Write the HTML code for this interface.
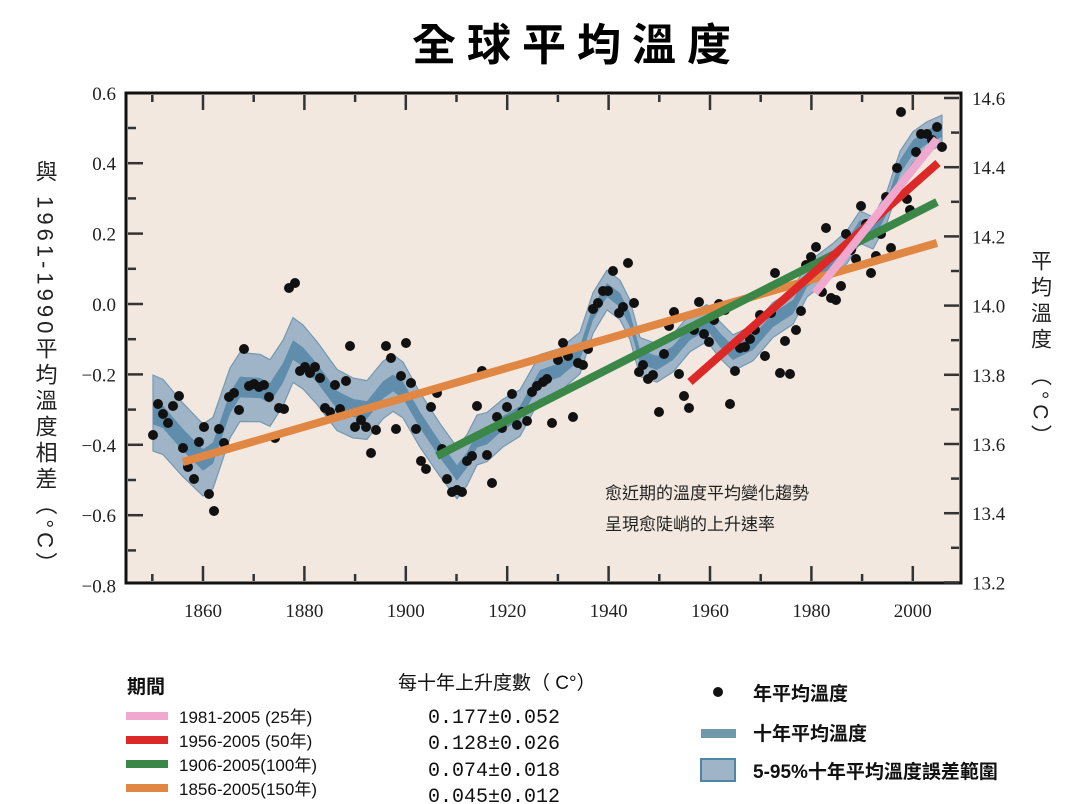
<!DOCTYPE html>
<html><head><meta charset="utf-8"><style>
html,body{margin:0;padding:0;background:#fff;}
body{width:1080px;height:804px;overflow:hidden;position:relative;font-family:"Liberation Sans","Noto Sans CJK TC",sans-serif;}
svg{position:absolute;left:0;top:0;}
</style></head><body>
<svg id="s" width="1080" height="804" xmlns="http://www.w3.org/2000/svg">
<text x="577" y="60" text-anchor="middle" font-size="44" font-weight="bold" letter-spacing="11" font-family="'Liberation Sans','Noto Sans CJK TC',sans-serif">全球平均溫度</text>
<rect x="126" y="93" width="835" height="490" fill="#f3e8df"/>
<g id="band"></g>
<g id="dots"></g>
<g stroke-linecap="butt" stroke-width="8">
<line x1="183" y1="462" x2="937" y2="243" stroke="#e08743"/>
<line x1="437" y1="456" x2="937" y2="202" stroke="#3b8748"/>
<line x1="690" y1="382" x2="938" y2="163" stroke="#dd2828"/>
<line x1="815" y1="293" x2="937" y2="139" stroke="#f0a8cf"/>
</g>
<rect x="126" y="93" width="835" height="490" fill="none" stroke="#111" stroke-width="3"/>
<g id="ticks" stroke="#333" stroke-width="2.5"></g>
<g font-family="'Liberation Serif',serif" font-size="19" fill="#222" id="lbl"></g>
<text x="605" y="499" font-size="17" fill="#222">愈近期的溫度平均變化趨勢</text>
<text x="605" y="530" font-size="17" fill="#222">呈現愈陡峭的上升速率</text>
<text x="45" y="160" font-size="22" letter-spacing="4" fill="#222" style="writing-mode:vertical-rl;text-orientation:mixed">與 1961-1990平均溫度相差（°C）</text>
<text x="1040" y="250" font-size="21" letter-spacing="5" fill="#222" style="writing-mode:vertical-rl;text-orientation:mixed">平均溫度 （°C）</text>
<!-- legend -->
<text x="127" y="693" font-size="19" font-weight="bold" fill="#111">期間</text>
<rect x="126" y="712" width="42" height="8" fill="#f0a8cf"/>
<rect x="126" y="736" width="42" height="8" fill="#dd2828"/>
<rect x="126" y="760" width="42" height="8" fill="#3b8748"/>
<rect x="126" y="784" width="42" height="8" fill="#e08743"/>
<g font-size="17" fill="#111">
<text x="179" y="723">1981-2005 (25年)</text>
<text x="179" y="747">1956-2005 (50年)</text>
<text x="179" y="771">1906-2005(100年)</text>
<text x="179" y="795">1856-2005(150年)</text>
</g>
<text x="398" y="689" font-size="19" fill="#111">每十年上升度數（ C°）</text>
<g font-size="20" fill="#111" font-family="'Liberation Mono','Noto Sans CJK TC',monospace">
<text x="428" y="723">0.177±0.052</text>
<text x="428" y="749">0.128±0.026</text>
<text x="428" y="776">0.074±0.018</text>
<text x="428" y="802">0.045±0.012</text>
</g>
<circle cx="718" cy="692" r="5" fill="#111"/>
<rect x="701" y="729" width="35" height="9" fill="#6f98ab"/>
<rect x="701" y="759" width="34" height="22" fill="#9fb4c6" stroke="#4f86a2" stroke-width="2"/>
<g font-size="19" font-weight="bold" fill="#111">
<text x="753" y="700">年平均溫度</text>
<text x="753" y="740">十年平均溫度</text>
<text x="753" y="778">5-95%十年平均溫度誤差範圍</text>
</g>
</svg>
<script>
var NS="http://www.w3.org/2000/svg";
function el(t,a,p){var e=document.createElementNS(NS,t);for(var k in a)e.setAttribute(k,a[k]);document.getElementById(p).appendChild(e);return e;}
var c=[[153,413],[163,417],[183,440],[203,460],[213,453],[230,403],[240,387],[260,388],[270,393],[283,373],[293,350],[303,357],[317,373],[337,400],[353,408],[367,410],[383,390],[393,383],[403,390],[420,420],[440,450],[457,473],[467,460],[477,440],[487,437],[503,423],[520,413],[540,377],[560,370],[580,353],[593,313],[607,290],[620,300],[630,320],[640,357],[657,363],[673,353],[690,333],[707,323],[720,340],[733,353],[753,343],[773,320],[793,307],[807,280],[820,270],[833,260],[847,247],[860,227],[873,233],[887,207],[900,167],[913,147],[927,137],[942,130]];
function w(x){return x<600?38-(x-153)*(18/447):20-(x-600)*(5/342);}
var up=[],dn=[],iu=[],id=[];
c.forEach(function(p){var ww=w(p[0]);up.push(p[0]+","+(p[1]-ww));dn.unshift(p[0]+","+(p[1]+ww));var iw=Math.max(7,ww*0.3);iu.push(p[0]+","+(p[1]-iw));id.unshift(p[0]+","+(p[1]+iw));});
el("polygon",{points:up.concat(dn).join(" "),fill:"#9fb4c6",stroke:"#7399b3","stroke-width":1.2,"stroke-linejoin":"round"},"band");
el("polygon",{points:iu.concat(id).join(" "),fill:"#5f8dab"},"band");
var d=[[153,435],[158,404],[163,414],[168,423],[173,406],[179,396],[183,448],[188,467],[194,479],[199,442],[204,427],[209,494],[214,511],[219,429],[224,443],[229,397],[234,393],[239,410],[244,349],[249,386],[254,384],[259,387],[264,385],[269,397],[275,438],[279,408],[284,409],[289,288],[295,283],[300,371],[305,367],[310,373],[315,367],[320,378],[325,408],[330,412],[335,385],[340,409],[346,381],[350,346],[355,427],[361,420],[366,427],[371,453],[376,430],[386,346],[391,358],[396,429],[401,376],[406,343],[411,383],[416,429],[421,461],[426,469],[431,407],[437,393],[442,449],[447,479],[452,492],[457,490],[462,492],[467,461],[472,456],[477,406],[482,371],[487,455],[492,483],[497,417],[502,428],[507,407],[512,394],[517,425],[522,412],[527,421],[532,392],[537,386],[543,382],[547,379],[552,423],[558,360],[563,343],[568,356],[573,417],[578,363],[583,365],[588,349],[593,309],[598,303],[603,291],[608,291],[613,271],[619,313],[623,307],[628,263],[634,303],[639,372],[643,365],[648,379],[653,375],[659,412],[664,354],[669,326],[674,312],[679,374],[684,396],[689,408],[694,330],[699,302],[704,334],[709,342],[714,320],[719,304],[725,310],[730,404],[735,371],[740,348],[745,347],[750,339],[755,330],[760,315],[765,356],[771,313],[775,273],[780,373],[785,341],[790,374],[796,330],[801,311],[806,265],[811,257],[816,247],[822,292],[826,228],[831,298],[836,300],[841,286],[846,234],[851,250],[856,259],[861,206],[866,224],[871,273],[876,256],[881,234],[886,197],[891,248],[897,168],[901,112],[907,199],[910,210],[916,152],[921,134],[927,134],[932,140],[937,127],[942,147]];
d.forEach(function(p){el("circle",{cx:p[0],cy:p[1],r:5,fill:"#111"},"dots");});
function y(v){return 304-v*352;}
for(var v=-0.8;v<=0.61;v+=0.1){var yy=y(v),maj=Math.round(v*10)%2==0;if(yy<95||yy>581)continue;el("line",{x1:128,y1:yy,x2:maj?143:136,y2:yy},"ticks");}
for(var i=0;i<8;i++){var yy=98+i*69.2;el("line",{x1:959,y1:yy,x2:944,y2:yy},"ticks");if(i<7)el("line",{x1:959,y1:yy+34.6,x2:951,y2:yy+34.6},"ticks");}
for(var yr=1850;yr<=2005;yr+=10){var x=203+(yr-1860)*5.07,maj=yr%20==0;el("line",{x1:x,y1:581,x2:x,y2:maj?566:574},"ticks");el("line",{x1:x,y1:95,x2:x,y2:maj?110:102},"ticks");}
var L=["0.6","0.4","0.2","0.0","-0.2","-0.4","-0.6","-0.8"];
L.forEach(function(s,i){var t=el("text",{x:116,y:y(0.6-0.2*i)+7,"text-anchor":"end"},"lbl");t.textContent=s.replace("-","\u2212");});
var R=["14.6","14.4","14.2","14.0","13.8","13.6","13.4","13.2"];
R.forEach(function(s,i){var t=el("text",{x:972,y:98+i*69.2+7},"lbl");t.textContent=s;});
for(var yr=1860;yr<=2000;yr+=20){var t=el("text",{x:203+(yr-1860)*5.07,y:617,"text-anchor":"middle"},"lbl");t.textContent=yr;}
</script>
</body></html>
